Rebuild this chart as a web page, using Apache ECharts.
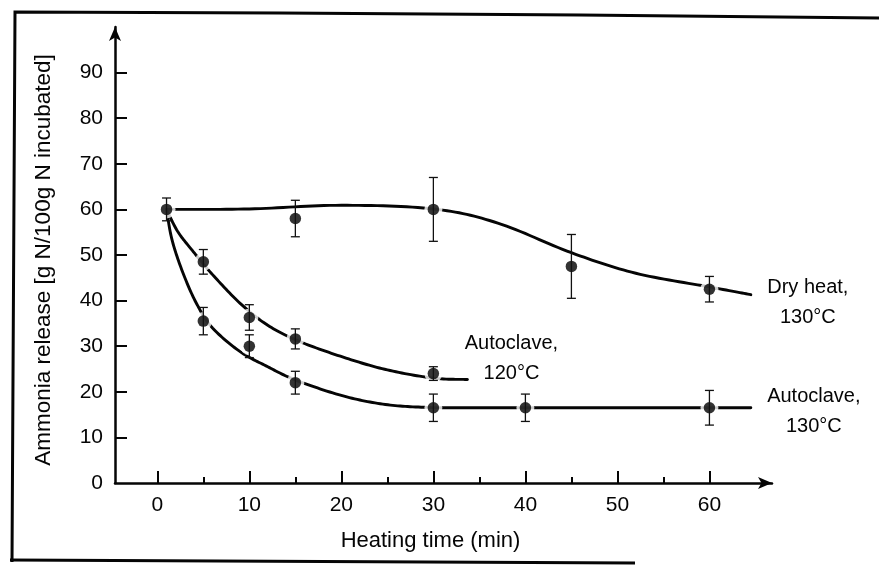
<!DOCTYPE html>
<html>
<head>
<meta charset="utf-8">
<script src="https://cdn.jsdelivr.net/npm/echarts@6/dist/echarts.min.js"></script>
<style>
  html, body { margin: 0; padding: 0; background: #fff; }
  #chart { width: 879px; height: 565px; }
</style>
</head>
<body>
<div id="chart"></div>
<script>
// Axis ticks
const xTicks = [0, 10, 20, 30, 40, 50, 60];
const xMinorTicks = [5, 15, 25, 35, 45, 55];
const yTicks = [0, 10, 20, 30, 40, 50, 60, 70, 80, 90];
const yTickMarks = [10, 20, 30, 40, 50, 60, 70, 80, 90];

// Measured ammonia release (mean and error) per heating time
const dryTime = [1, 15, 30, 45, 60];
const dryMean = [60, 58, 60, 47.5, 42.5];
const dryErr = [2.5, 4, 7, 7, 2.8];

const ac130Time = [5, 10, 15, 30, 40, 60];
const ac130Mean = [35.5, 30, 22, 16.5, 16.5, 16.5];
const ac130Err = [3, 2.5, 2.5, 3, 3, 3.8];

const ac120Time = [5, 10, 15, 30];
const ac120Mean = [48.5, 36.3, 31.6, 24];
const ac120Err = [2.7, 2.8, 2.2, 1.5];

// Hand-drawn trend curves (knots the smooth curve passes through)
const dryCurve = [[1, 60], [10, 60.1], [20, 60.9], [30, 60.1], [37, 57], [45, 50.5], [52, 46], [60, 43], [64.5, 41.3]];
const ac130Curve = [[1, 60], [1.6, 53.3], [2.8, 46], [4.3, 39.2], [6, 34], [9, 28.8], [12, 25.5], [15, 22.6], [20, 19.2], [24.5, 17.3], [29, 16.6], [35, 16.5], [64.5, 16.5]];
const ac120Curve = [[1, 60], [2.2, 55.2], [3.8, 51], [6, 45.7], [9, 39.4], [12, 34.6], [15.5, 31], [20.5, 27.4], [25, 24.8], [30, 23], [33.7, 22.7]];

// Curve captions
const dryLabel = 'Dry heat,\n130°C';
const ac130Label = 'Autoclave,\n130°C';
const ac120Label = 'Autoclave,\n120°C';

const FONT = "'Liberation Sans', Arial, Helvetica, sans-serif";
const INK = '#050505';

const chart = echarts.init(document.getElementById('chart'), null, { renderer: 'canvas' });

function pairs(t, v) { return t.map((x, i) => [x, v[i]]); }

// Catmull-Rom spline through pixel knots, sampled into a polyline
function splinePoints(px) {
  const out = [px[0]];
  for (let i = 0; i < px.length - 1; i++) {
    const p0 = px[i - 1] || px[i], p1 = px[i], p2 = px[i + 1], p3 = px[i + 2] || px[i + 1];
    const c1 = [p1[0] + (p2[0] - p0[0]) / 6, p1[1] + (p2[1] - p0[1]) / 6];
    const c2 = [p2[0] - (p3[0] - p1[0]) / 6, p2[1] - (p3[1] - p1[1]) / 6];
    const steps = 16;
    for (let s = 1; s <= steps; s++) {
      const t = s / steps, u = 1 - t;
      const a = u * u * u, b = 3 * u * u * t, c = 3 * u * t * t, d = t * t * t;
      out.push([a * p1[0] + b * c1[0] + c * c2[0] + d * p2[0],
                a * p1[1] + b * c1[1] + c * c2[1] + d * p2[1]]);
    }
  }
  return out;
}

function curveSeries(name, knots, caption, offset) {
  return {
    name, type: 'custom', z: 2, silent: true, clip: false,
    encode: { x: 0, y: 1 },
    data: knots,
    renderItem(params, api) {
      if (params.dataIndex !== knots.length - 1) return null;
      const px = knots.map(k => api.coord(k));
      const end = px[px.length - 1];
      return {
        type: 'group', children: [
          { type: 'polyline', shape: { points: splinePoints(px) },
            style: { stroke: INK, lineWidth: 2.9, fill: null, lineJoin: 'round', lineCap: 'round' } },
          { type: 'text', x: end[0] + offset[0], y: end[1] + offset[1],
            style: { text: caption, fill: INK, fontFamily: FONT, fontSize: 20, lineHeight: 30,
                     align: 'center', verticalAlign: 'middle', textAlign: 'center', textVerticalAlign: 'middle' } }
        ]
      };
    }
  };
}

function haloSeries(name, t, v) {
  return {
    name, type: 'scatter', data: pairs(t, v), symbol: 'circle', symbolSize: 18, z: 3, silent: true,
    itemStyle: { color: '#fff' }
  };
}

function pointSeries(name, t, v) {
  return {
    name, type: 'scatter', data: pairs(t, v), symbol: 'circle', symbolSize: 11.5, z: 4,
    itemStyle: { color: '#000' }
  };
}

function errorSeries(name, t, v, e) {
  return {
    name, type: 'custom', z: 5, silent: true,
    encode: { x: 0, y: [1, 2] },
    data: t.map((x, i) => [x, v[i] - e[i], v[i] + e[i]]),
    renderItem(params, api) {
      const lo = api.coord([api.value(0), api.value(1)]);
      const hi = api.coord([api.value(0), api.value(2)]);
      const w = 4.5;
      const style = { stroke: '#111', lineWidth: 1.3 };
      return {
        type: 'group', children: [
          { type: 'line', shape: { x1: hi[0], y1: hi[1], x2: lo[0], y2: lo[1] }, style },
          { type: 'line', shape: { x1: hi[0] - w, y1: hi[1], x2: hi[0] + w, y2: hi[1] }, style },
          { type: 'line', shape: { x1: lo[0] - w, y1: lo[1], x2: lo[0] + w, y2: lo[1] }, style }
        ]
      };
    }
  };
}

const axisLineStyle = { color: INK, width: 2.5 };
const tickStyle = { color: INK, width: 2 };

chart.setOption({
  animation: false,
  backgroundColor: '#fff',
  grid: { left: 115, right: 107, top: 27, bottom: 82, containLabel: false, outerBoundsMode: 'none' },
  xAxis: [{
    type: 'value', min: -4.6, max: 66.8,
    axisLine: { show: true, onZero: false, lineStyle: axisLineStyle, symbol: ['none', 'arrow'], symbolSize: [9, 14] },
    axisTick: { show: true, inside: true, length: 12, lineStyle: tickStyle, customValues: xTicks },
    axisLabel: { customValues: xTicks, color: INK, fontFamily: FONT, fontSize: 21, margin: 12 },
    splitLine: { show: false },
    name: 'Heating time (min)', nameLocation: 'middle', nameGap: 47,
    nameTextStyle: { color: INK, fontFamily: FONT, fontSize: 22, padding: [0, 26, 0, 0] }
  }, {
    type: 'value', min: -4.6, max: 66.8, position: 'bottom',
    axisLine: { show: false, onZero: false },
    axisTick: { show: true, inside: true, length: 6, lineStyle: tickStyle, customValues: xMinorTicks },
    axisLabel: { show: false },
    splitLine: { show: false }
  }],
  yAxis: {
    type: 'value', min: 0, max: 100,
    axisLine: { show: true, onZero: false, lineStyle: axisLineStyle, symbol: ['none', 'arrow'], symbolSize: [9, 14] },
    axisTick: { show: true, inside: true, length: 12, lineStyle: tickStyle, customValues: yTickMarks },
    axisLabel: { customValues: yTicks, color: INK, fontFamily: FONT, fontSize: 21, margin: 12 },
    splitLine: { show: false },
    name: 'Ammonia release [g N/100g N incubated]', nameLocation: 'middle', nameGap: 60,
    nameTextStyle: { color: INK, fontFamily: FONT, fontSize: 22.5, padding: [0, 10, 0, 0] }
  },
  series: [
    curveSeries('Dry heat, 130°C', dryCurve, dryLabel, [57, 8]),
    curveSeries('Autoclave, 130°C', ac130Curve, ac130Label, [63, 4]),
    curveSeries('Autoclave, 120°C', ac120Curve, ac120Label, [44, -21]),
    haloSeries('Dry heat halo', dryTime, dryMean),
    haloSeries('Autoclave 130 halo', ac130Time, ac130Mean),
    haloSeries('Autoclave 120 halo', ac120Time, ac120Mean),
    pointSeries('Dry heat points', dryTime, dryMean),
    pointSeries('Autoclave 130 points', ac130Time, ac130Mean),
    pointSeries('Autoclave 120 points', ac120Time, ac120Mean),
    errorSeries('Dry heat error', dryTime, dryMean, dryErr),
    errorSeries('Autoclave 130 error', ac130Time, ac130Mean, ac130Err),
    errorSeries('Autoclave 120 error', ac120Time, ac120Mean, ac120Err)
  ],
  graphic: [
    { type: 'polyline', silent: true, shape: { points: [[12, 562], [15, 12], [280, 13], [580, 15], [879, 18]] },
      style: { stroke: INK, lineWidth: 3, fill: null } },
    { type: 'line', silent: true, shape: { x1: 10, y1: 560, x2: 635, y2: 563 },
      style: { stroke: INK, lineWidth: 3 } }
  ]
});
</script>
</body>
</html>
